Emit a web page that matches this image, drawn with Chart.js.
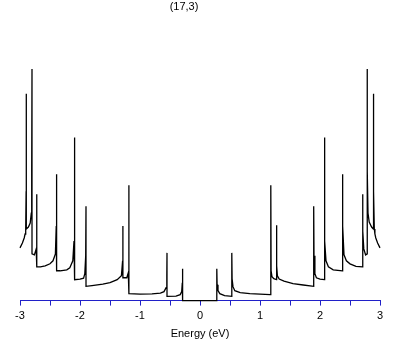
<!DOCTYPE html>
<html>
<head>
<meta charset="utf-8">
<script src="https://cdn.jsdelivr.net/npm/chart.js@4.4.0/dist/chart.umd.min.js"></script>
<style>
  html, body { margin: 0; padding: 0; background: #fff; }
  #wrap { width: 409px; height: 345px; }
</style>
</head>
<body>
<div id="wrap"><canvas id="dosChart" width="409" height="345"></canvas></div>
<script>
// (17,3) nanotube density of states
const chartTitle = '(17,3)';
const axisLabel = 'Energy (eV)';

const energy = [
  -3.00, -2.96, -2.93, -2.915, -2.905, -2.898, -2.895, -2.895,
  -2.86, -2.83, -2.812, -2.805, -2.80, -2.80,
  -2.76, -2.73, -2.722, -2.72, -2.72,
  -2.66, -2.58, -2.50, -2.45, -2.41, -2.396, -2.39, -2.39,
  -2.33, -2.22, -2.17, -2.12, -2.10, -2.09, -2.09,
  -2.00, -1.94, -1.92, -1.905, -1.90, -1.90,
  -1.80, -1.62, -1.50, -1.38, -1.31, -1.29, -1.285, -1.285,
  -1.22, -1.195, -1.185, -1.185,
  -1.00, -0.80, -0.66, -0.60, -0.565, -0.553, -0.55, -0.55,
  -0.40, -0.33, -0.305, -0.295, -0.29, -0.29,
  0.28,
  0.28, 0.285, 0.30, 0.33, 0.41, 0.53,
  0.53, 0.535, 0.55, 0.58, 0.67, 0.83, 1.00, 1.17, 1.18,
  1.18, 1.185, 1.20, 1.23, 1.275,
  1.275, 1.28, 1.29, 1.32, 1.40, 1.55, 1.72, 1.895,
  1.895, 1.90, 1.915, 1.94, 2.00, 2.075,
  2.075, 2.08, 2.10, 2.14, 2.22, 2.375,
  2.375, 2.38, 2.40, 2.44, 2.50, 2.60, 2.71,
  2.71, 2.715, 2.73, 2.76, 2.785,
  2.785, 2.79, 2.80, 2.82, 2.86, 2.89,
  2.89, 2.895, 2.905, 2.915, 2.93, 2.96, 3.00
];

const dos = [
  53, 58, 63, 67, 72, 110, 208, 72,
  74, 78, 88, 130, 233, 47,
  46, 52, 75, 107, 34,
  34, 35, 37, 40, 47, 75, 127, 30,
  30, 31, 33, 40, 60, 164, 21,
  21.5, 22.5, 27, 45, 95, 14.3,
  15, 16.5, 18, 21, 25, 40, 75, 23,
  23, 28, 116, 7,
  6.5, 6.8, 7.5, 9, 13, 25, 48, 4.3,
  4.5, 6, 9, 18, 32, 0,
  0,
  32, 16, 10, 7, 5, 4.3,
  48, 22, 14, 10, 8, 7, 6.5, 6, 6,
  116, 30, 24, 22, 21,
  75.7, 35, 25, 21.7, 19.5, 17, 15.7, 14.3,
  95, 45, 27, 23, 21.5, 21,
  164, 60, 40, 34, 31, 30,
  127, 75, 46, 40, 37, 34.5, 34,
  107, 70, 52, 46, 47,
  233, 130, 88, 79, 74, 72,
  208, 110, 72, 67, 63, 58, 53
];

const axisBlue = '#2020c8';

const points = energy.map(function (e, i) { return { x: e, y: dos[i] }; });

const titleText = {
  id: 'titleText',
  afterDraw: function (chart) {
    const ctx = chart.ctx;
    ctx.save();
    ctx.fillStyle = '#000';
    ctx.font = '11px "Liberation Sans", Arial, sans-serif';
    ctx.textAlign = 'center';
    ctx.textBaseline = 'middle';
    ctx.fillText(chartTitle, 184, 7);
    ctx.restore();
  }
};

const ctx = document.getElementById('dosChart').getContext('2d');
new Chart(ctx, {
  type: 'line',
  data: {
    datasets: [{
      data: points,
      borderColor: '#000',
      borderWidth: 1.3,
      pointRadius: 0,
      tension: 0,
      fill: false,
      clip: 4
    }]
  },
  options: {
    responsive: false,
    animation: false,
    events: [],
    layout: { padding: { top: 60, left: 20, right: 29, bottom: 4 } },
    plugins: {
      legend: { display: false },
      tooltip: { enabled: false },
      title: { display: false }
    },
    scales: {
      x: {
        type: 'linear',
        min: -3,
        max: 3,
        border: { color: axisBlue, width: 1 },
        grid: { drawOnChartArea: false, drawTicks: true, tickLength: 5, color: axisBlue },
        ticks: {
          stepSize: 0.5,
          padding: 4,
          color: '#000',
          maxRotation: 0,
          autoSkip: false,
          font: { family: '"Liberation Sans", Arial, sans-serif', size: 11 },
          callback: function (v) { return Number.isInteger(v) ? String(v) : ''; }
        },
        title: {
          display: true,
          text: axisLabel,
          color: '#000',
          padding: { top: 1, bottom: 0 },
          font: { family: '"Liberation Sans", Arial, sans-serif', size: 11 }
        }
      },
      y: {
        display: false,
        min: 0,
        max: 242
      }
    }
  },
  plugins: [titleText]
});
</script>
</body>
</html>
